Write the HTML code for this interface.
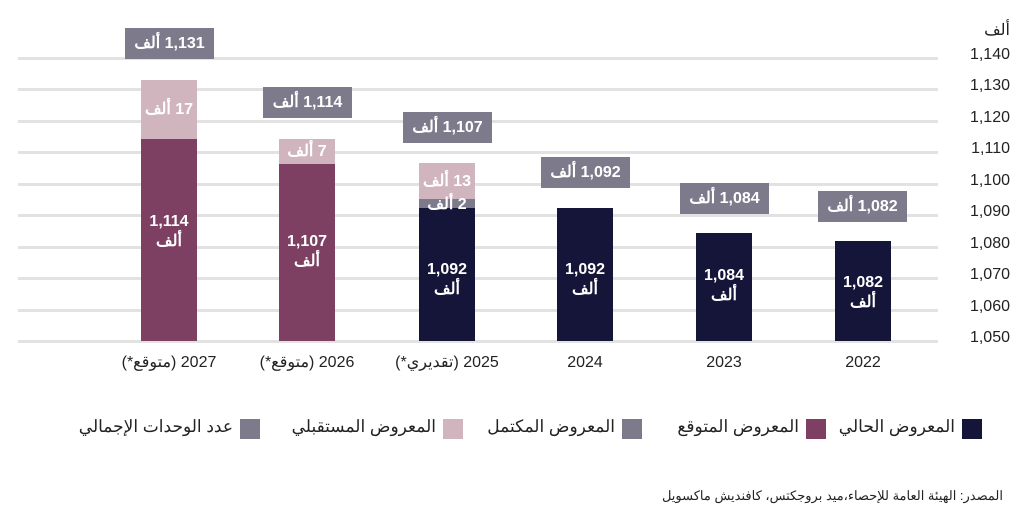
<!DOCTYPE html><html><head><meta charset="utf-8"><style>
body{margin:0;width:1024px;height:513px;background:#fff;position:relative;overflow:hidden;font-family:"Liberation Sans","Noto Sans CJK SC",sans-serif}
div{position:absolute}
.g{left:18px;width:920px;height:3px;background:#e2e2e2}
.t{right:14px;font-size:16px;color:#222;width:60px;text-align:right}
.b{width:56px}
.box{width:89px;height:31px;background:#7d7a8c;color:#fff;font-size:16px;font-weight:bold;text-align:center;line-height:31px;direction:rtl}
.in{color:#fff;font-size:16px;font-weight:bold;text-align:center;width:56px;line-height:20px}
.y{font-size:16px;color:#222;text-align:center;width:160px;direction:rtl}
.sq{width:20px;height:20px;top:419px}
.lt{font-size:17px;color:#222;top:417px;direction:rtl;text-align:right;white-space:nowrap}
</style></head><body>
<div class="t" style="top:20px">ألف</div>
<div class="g" style="top:57px"></div><div class="t" style="top:46px">1,140</div>
<div class="g" style="top:88px"></div><div class="t" style="top:77px">1,130</div>
<div class="g" style="top:120px"></div><div class="t" style="top:109px">1,120</div>
<div class="g" style="top:151px"></div><div class="t" style="top:140px">1,110</div>
<div class="g" style="top:183px"></div><div class="t" style="top:172px">1,100</div>
<div class="g" style="top:214px"></div><div class="t" style="top:203px">1,090</div>
<div class="g" style="top:246px"></div><div class="t" style="top:235px">1,080</div>
<div class="g" style="top:277px"></div><div class="t" style="top:266px">1,070</div>
<div class="g" style="top:309px"></div><div class="t" style="top:298px">1,060</div>
<div class="g" style="top:340px"></div><div class="t" style="top:329px">1,050</div>

<div class="b" style="left:141px;top:80px;height:59px;background:#d0b5be"></div>
<div class="b" style="left:141px;top:139px;height:202px;background:#7d3f62"></div>
<div class="in" style="left:141px;top:100px;direction:rtl">17 ألف</div>
<div class="in" style="left:141px;top:212px">1,114<br>ألف</div>
<div class="box" style="left:125px;top:28px">1,131 ألف</div>

<div class="b" style="left:279px;top:139px;height:25px;background:#d0b5be"></div>
<div class="b" style="left:279px;top:164px;height:177px;background:#7d3f62"></div>
<div class="in" style="left:279px;top:142px;direction:rtl">7 ألف</div>
<div class="in" style="left:279px;top:232px">1,107<br>ألف</div>
<div class="box" style="left:263px;top:87px">1,114 ألف</div>

<div class="b" style="left:419px;top:163px;height:36px;background:#d0b5be"></div>
<div class="b" style="left:419px;top:199px;height:9px;background:#7d7a8c"></div>
<div class="b" style="left:419px;top:208px;height:133px;background:#15153a"></div>
<div class="in" style="left:419px;top:172px;direction:rtl">13 ألف</div>
<div class="in" style="left:419px;top:195px;direction:rtl">2 ألف</div>
<div class="in" style="left:419px;top:260px">1,092<br>ألف</div>
<div class="box" style="left:403px;top:112px">1,107 ألف</div>

<div class="b" style="left:557px;top:208px;height:133px;background:#15153a"></div>
<div class="in" style="left:557px;top:260px">1,092<br>ألف</div>
<div class="box" style="left:541px;top:157px">1,092 ألف</div>

<div class="b" style="left:696px;top:233px;height:108px;background:#15153a"></div>
<div class="in" style="left:696px;top:266px">1,084<br>ألف</div>
<div class="box" style="left:680px;top:183px">1,084 ألف</div>

<div class="b" style="left:835px;top:241px;height:100px;background:#15153a"></div>
<div class="in" style="left:835px;top:273px">1,082<br>ألف</div>
<div class="box" style="left:818px;top:191px">1,082 ألف</div>

<div class="y" style="left:89px;top:352px">2027 (متوقع*)</div>
<div class="y" style="left:227px;top:352px">2026 (متوقع*)</div>
<div class="y" style="left:367px;top:352px">2025 (تقديري*)</div>
<div class="y" style="left:505px;top:354px">2024</div>
<div class="y" style="left:644px;top:354px">2023</div>
<div class="y" style="left:783px;top:354px">2022</div>

<div class="sq" style="left:962px;background:#15153a"></div><div class="lt" style="right:69px">المعروض الحالي</div>
<div class="sq" style="left:806px;background:#7d3f62"></div><div class="lt" style="right:225px">المعروض المتوقع</div>
<div class="sq" style="left:622px;background:#7d7a8c"></div><div class="lt" style="right:409px">المعروض المكتمل</div>
<div class="sq" style="left:443px;background:#d0b5be"></div><div class="lt" style="right:588px">المعروض المستقبلي</div>
<div class="sq" style="left:240px;background:#7d7a8c"></div><div class="lt" style="right:791px">عدد الوحدات الإجمالي</div>

<div style="right:21px;top:488px;font-size:13px;color:#222;direction:rtl;white-space:nowrap">المصدر: الهيئة العامة للإحصاء،ميد بروجكتس، كافنديش ماكسويل</div>
</body></html>
